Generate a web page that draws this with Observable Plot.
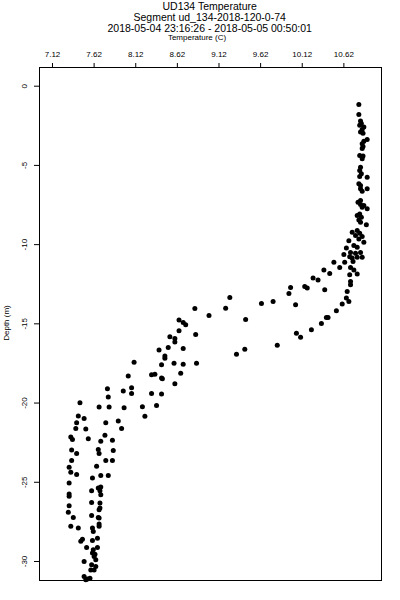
<!DOCTYPE html>
<html>
<head>
<meta charset="utf-8">
<script src="https://cdn.jsdelivr.net/npm/d3@7"></script>
<script src="https://cdn.jsdelivr.net/npm/@observablehq/plot@0.6"></script>
<style>
  html, body { margin: 0; padding: 0; background: white; }
  #wrap { position: relative; width: 400px; height: 600px; font-family: "Liberation Sans", Arial, sans-serif; color: black; }
  #wrap svg { position: absolute; left: 0; top: 0; }
  .t { position: absolute; left: 0; width: 419.4px; text-align: center; white-space: nowrap; }
</style>
</head>
<body>
<div id="wrap"></div>
<script>
const titleLines = ["UD134 Temperature", "Segment ud_134-2018-120-0-74", "2018-05-04 23:16:26 - 2018-05-05 00:50:01"];
const xLabel = "Temperature (C)";
const yLabel = "Depth (m)";
const xTicks = [7.12, 7.62, 8.12, 8.62, 9.12, 9.62, 10.12, 10.62];
const xTickLabels = ["7.12", "7.62", "8.12", "8.62", "9.12", "9.62", "10.12", "10.62"];
const yTicks = [0, -5, -10, -15, -20, -25, -30];
const yTickLabels = ["0", "-5", "-10", "-15", "-20", "-25", "-30"];

const temps = [
10.80,10.80,10.82,10.83,10.81,10.86,10.84,10.82,10.85,10.90,10.86,10.84,10.85,10.84,10.81,10.85,10.84,
10.82,10.81,10.83,10.81,10.90,10.80,10.82,10.82,10.90,10.84,10.82,10.79,10.82,10.86,10.84,10.90,10.81,
10.78,10.83,10.80,10.82,10.89,10.78,10.72,10.81,10.76,10.84,10.80,10.86,10.68,10.74,10.78,10.82,10.70,
10.76,10.84,10.72,10.65,10.62,10.69,10.78,
10.50,10.63,10.73,10.57,10.70,10.74,10.38,10.45,10.69,10.78,10.25,10.31,10.70,10.70,9.98,10.15,10.18,
10.39,9.96,10.66,10.65,10.68,10.60,10.04,10.53,10.41,10.43,10.35,
9.25,9.63,9.77,8.83,9.20,9.00,8.64,8.69,8.72,9.44,8.64,8.84,10.05,10.10,10.23,8.53,8.59,8.59,8.51,8.69,
8.40,8.47,8.47,9.82,9.43,9.33,8.43,8.58,8.69,8.85,8.31,8.35,8.66,8.43,8.44,8.59,8.31,8.43,8.20,8.37,8.23,
8.10,8.03,7.78,8.07,7.79,7.97,8.07,7.45,7.68,7.80,7.98,
7.43,7.50,7.76,7.41,7.40,7.52,7.91,7.95,7.75,7.34,7.36,7.55,7.70,7.84,7.35,7.67,7.85,7.41,7.68,7.35,7.76,7.84,
7.65,7.32,7.34,7.41,7.70,7.79,7.60,7.32,7.67,7.70,7.59,7.69,7.32,7.32,7.70,7.59,7.69,7.32,7.69,7.68,7.31,
7.37,7.59,7.67,7.68,7.68,7.68,7.34,7.43,7.60,7.61,7.66,7.60,7.48,7.46,7.53,7.61,7.66,7.60,7.63,7.62,7.64,
7.50,7.59,7.64,7.58,7.62,7.50,7.54,7.57,7.52
];
const depths = [
-1.16,-1.79,-2.20,-2.36,-2.47,-2.57,-2.74,-2.89,-2.97,-3.37,-3.48,-3.63,-3.80,-3.94,-4.37,-4.41,-4.58,
-5.11,-5.32,-5.53,-5.70,-5.74,-6.16,-6.27,-6.47,-6.47,-6.63,-7.22,-7.32,-7.47,-7.53,-7.64,-7.74,-8.06,
-8.16,-8.27,-8.44,-8.59,-8.75,-9.11,-9.22,-9.28,-9.43,-9.49,-9.64,-9.85,-9.75,-10.06,-10.17,-10.49,-10.49,
-10.55,-10.80,-10.84,-10.21,-10.63,-10.76,-10.80,
-11.12,-11.12,-11.06,-11.44,-11.44,-11.60,-11.60,-11.82,-11.90,-11.85,-12.11,-12.23,-12.32,-12.53,-12.70,-12.64,-12.74,
-12.85,-13.08,-12.96,-13.37,-13.59,-13.75,-13.80,-14.18,-14.60,-14.60,-14.98,
-13.34,-13.72,-13.59,-14.03,-14.01,-14.47,-14.75,-14.92,-15.06,-14.73,-15.44,-15.68,-15.59,-15.84,-15.38,-15.82,-15.93,-16.14,-16.50,-16.56,
-16.65,-17.03,-17.17,-16.35,-16.60,-16.92,-17.58,-17.49,-17.55,-17.49,-18.21,-18.18,-18.12,-18.42,-18.46,-18.78,-19.39,-19.43,-20.23,-20.15,-20.84,
-17.42,-18.29,-19.09,-19.03,-19.62,-19.24,-19.39,-19.98,-20.25,-20.25,-20.30,
-20.82,-20.97,-21.25,-21.25,-21.60,-21.63,-21.14,-21.60,-22.03,-22.15,-22.30,-22.26,-22.41,-22.34,-22.97,-22.93,-22.99,-23.18,-23.18,-23.63,-23.63,-23.63,
-23.99,-24.05,-24.37,-24.51,-24.58,-24.58,-24.73,-25.04,-25.36,-25.30,-25.53,-25.53,-25.74,-25.89,-25.78,-26.27,-26.31,-26.48,-26.63,-26.73,-26.90,
-27.22,-27.09,-27.22,-27.26,-27.64,-27.78,-27.78,-27.89,-27.89,-28.10,-28.53,-28.67,-28.59,-28.73,-29.11,-29.26,-29.11,-29.47,-29.54,-29.68,-29.89,
-30.00,-30.21,-30.32,-30.53,-30.53,-30.95,-31.10,-31.06,-31.16
];

const data = temps.map((t, i) => ({t, d: depths[i]}));

const chart = Plot.plot({
  width: 400,
  height: 600,
  marginLeft: 39,
  marginRight: 19,
  marginTop: 67,
  marginBottom: 20,
  style: {fontFamily: '"Liberation Sans", Arial, sans-serif', fontSize: "8px", color: "black", background: "white", overflow: "visible"},
  x: {domain: [6.964, 11.072]},
  y: {domain: [-31.2, 1.18]},
  marks: [
    Plot.frame({stroke: "black", strokeWidth: 1}),
    Plot.axisX(xTicks, {anchor: "top", tickSize: 5, tickPadding: 6, tickFormat: (d, i) => xTickLabels[i], label: null}),
    Plot.axisY(yTicks, {anchor: "left", tickSize: 5, tickPadding: 8, tickRotate: -90, tickFormat: (d, i) => yTickLabels[i], label: null}),
    Plot.dot(data, {x: "t", y: "d", r: 2.5, fill: "black", stroke: "none"})
  ]
});

const wrap = document.getElementById("wrap");
wrap.appendChild(chart);

const tops = [1.1, 12.1, 23.1];
titleLines.forEach((s, i) => {
  const div = document.createElement("div");
  div.className = "t";
  div.style.top = tops[i] + "px";
  div.style.fontSize = "10.5px";
  div.style.lineHeight = "10.5px";
  div.textContent = s;
  wrap.appendChild(div);
});
const xl = document.createElement("div");
xl.className = "t";
xl.style.top = "34px";
xl.style.width = "394px";
xl.style.fontSize = "8px";
xl.style.lineHeight = "8px";
xl.textContent = xLabel;
wrap.appendChild(xl);

const yl = document.createElement("div");
yl.style.position = "absolute";
yl.style.left = "7px";
yl.style.top = "323px";
yl.style.fontSize = "8px";
yl.style.lineHeight = "8px";
yl.style.whiteSpace = "nowrap";
yl.style.transform = "translate(-50%, -50%) rotate(-90deg)";
yl.textContent = yLabel;
wrap.appendChild(yl);
</script>
</body>
</html>
